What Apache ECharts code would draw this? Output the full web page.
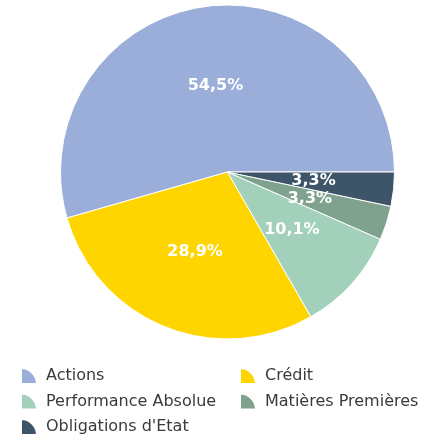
<!DOCTYPE html>
<html><head><meta charset="utf-8">
<script src="https://cdn.jsdelivr.net/npm/echarts@6/dist/echarts.min.js"></script>
<style>html,body{margin:0;padding:0;background:#fff}#c{width:437px;height:438px}</style>
</head><body><div id="c"></div>
<script>
var categories = ["Actions", "Crédit", "Performance Absolue", "Matières Premières", "Obligations d'Etat"];
var values = [54.5, 28.9, 10.1, 3.3, 3.3];
var colors = ["#9aaed9", "#ffd500", "#a3d0bb", "#7fa28e", "#3e5468"];
var leftLegend = ["Actions", "Performance Absolue", "Obligations d'Etat"];
var rightLegend = ["Crédit", "Matières Premières"];

var icon = 'path://M0,0 A1,1 0 0,1 1,1 L0,1 Z';
var legendCommon = {
  orient: 'vertical', icon: icon, itemWidth: 16, itemHeight: 16, itemGap: 7.5, height: 120,
  textStyle: {fontFamily: 'DejaVu Sans', fontSize: 16, color: '#3a3a3a', padding: [0,0,0,4]}
};
var chart = echarts.init(document.getElementById('c'));
chart.setOption({
  animation: false,
  color: colors,
  legend: [
    Object.assign({left: 15, top: 362, data: leftLegend}, legendCommon),
    Object.assign({left: 234, top: 362, data: rightLegend}, legendCommon)
  ],
  series: [{
    type: 'pie',
    center: [227.5, 172],
    radius: [0, 167],
    startAngle: 0,
    clockwise: false,
    avoidLabelOverlap: false,
    itemStyle: {borderColor: '#fff', borderWidth: 1},
    label: {
      position: 'inside', color: '#fff', fontFamily: 'DejaVu Sans', fontWeight: 'bold', fontSize: 16,
      formatter: function(p){ return p.value.toFixed(1).replace('.', ',') + '%'; }
    },
    labelLine: {show: false},
    data: categories.map(function(n, i){ return {name: n, value: values[i]}; })
  }]
});
</script></body></html>
